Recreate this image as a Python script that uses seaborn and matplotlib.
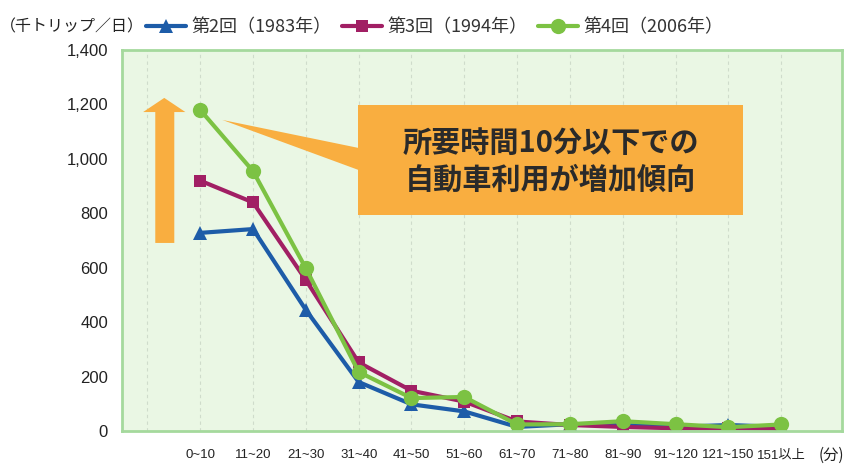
import pandas as pd
import seaborn as sns
import matplotlib.pyplot as plt
from matplotlib.patches import Polygon, Rectangle

# data (千トリップ/日) by travel time band
categories = ["0~10", "11~20", "21~30", "31~40", "41~50", "51~60",
              "61~70", "71~80", "81~90", "91~120", "121~150", "151以上"]
s1983 = [728, 742, 445, 180, 98, 72, 15, 25, 22, 15, 22, 15]
s1994 = [920, 840, 555, 252, 148, 108, 35, 22, 15, 10, 10, 8]
s2006 = [1180, 955, 598, 217, 121, 125, 24, 25, 36, 25, 14, 24]
series_names = ["第2回（1983年）", "第3回（1994年）", "第4回（2006年）"]
y_ticks = [0, 200, 400, 600, 800, 1000, 1200, 1400]

rows = []
for name, vals in zip(series_names, [s1983, s1994, s2006]):
    for i, v in enumerate(vals):
        rows.append({"pos": i, "value": v, "series": name})
df = pd.DataFrame(rows)

sns.set_theme(style="white")
plt.rcParams["font.family"] = ["Noto Sans CJK JP", "DejaVu Sans"]

colors = {series_names[0]: "#1d5ca8", series_names[1]: "#a11f64", series_names[2]: "#7cc243"}
markers = {series_names[0]: "^", series_names[1]: "s", series_names[2]: "o"}
msize = {series_names[0]: 10, series_names[1]: 9, series_names[2]: 11}

fig = plt.figure(figsize=(8.49, 4.66), dpi=100)
ax = fig.add_axes([122 / 849, 35 / 466, 720 / 849, 381 / 466])
ax.set_facecolor("#eaf7e4")

for name in series_names:
    sns.lineplot(data=df[df["series"] == name], x="pos", y="value", ax=ax,
                 color=colors[name], marker=markers[name], markersize=msize[name],
                 markeredgewidth=0, linewidth=3, label=name)

ax.set_xlim(-1.48, 12.15)
ax.set_ylim(0, 1400)
ax.set_xlabel("")
ax.set_ylabel("")

# vertical dashed grid
for gx in range(-1, len(categories)):
    ax.axvline(gx, color="#cfdccb", linestyle=(0, (3, 3)), linewidth=0.8, zorder=0)

ax.set_xticks(range(len(categories)))
ax.set_xticklabels(categories, family=["Liberation Sans", "Noto Sans CJK JP"],
                   fontsize=9.5, color="#222222")
ax.tick_params(axis="x", length=0, pad=13)
ax.set_yticks(y_ticks)
ax.set_yticklabels([f"{v:,}" for v in y_ticks], family=["Liberation Sans", "DejaVu Sans"],
                   fontsize=12, color="#222222")
ax.tick_params(axis="y", direction="in", length=6, width=1.3, color="#55e02a", pad=10)
for sp in ax.spines.values():
    sp.set_color("#a5d99d")
    sp.set_linewidth(2)

# orange arrow
arrow = Polygon([(-0.85, 691), (-0.49, 691), (-0.49, 1172), (-0.28, 1172),
                 (-0.68, 1224), (-1.08, 1172), (-0.85, 1172)],
                closed=True, facecolor="#f9ae40", edgecolor="none", zorder=1)
ax.add_patch(arrow)

# callout box
ax.add_patch(Polygon([(0.42, 1143), (3.0, 1040), (3.0, 959)], closed=True,
                     facecolor="#f9ae40", edgecolor="none", zorder=1))
ax.add_patch(Rectangle((2.99, 794), 7.28, 404, facecolor="#f9ae40", edgecolor="none", zorder=1))
ax.text(6.63, 1058, "所要時間10分以下での", ha="center", va="center",
        fontsize=21, fontweight="bold", color="#2a2a2a", zorder=2)
ax.text(6.63, 922, "自動車利用が増加傾向", ha="center", va="center",
        fontsize=21, fontweight="bold", color="#2a2a2a", zorder=2)

if ax.get_legend():
    ax.get_legend().remove()
handles, labels = ax.get_legend_handles_labels()
fig.legend(handles, labels, loc="center left", bbox_to_anchor=(146 / 849, 1 - 27 / 466),
           ncol=3, frameon=False, fontsize=13, handlelength=2.2, handletextpad=0.3,
           columnspacing=0.6, borderpad=0, borderaxespad=0, labelcolor="#333333")

fig.text(0, 1 - 27 / 466, "（千トリップ／日）", ha="left", va="center",
         fontsize=11.5, color="#222222")
fig.text(831 / 849, 1 - 455 / 466, "(分)", ha="center", va="center",
         fontsize=11, color="#222222")

fig.savefig("out.png", dpi=100)
